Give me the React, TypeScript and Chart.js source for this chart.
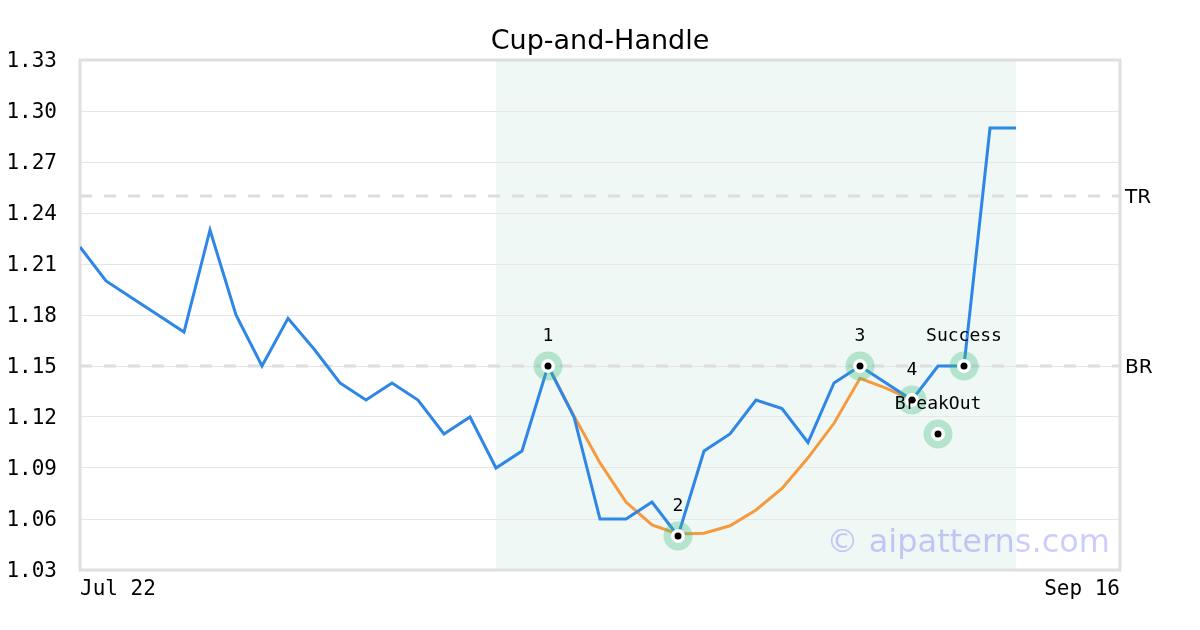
import React, { useEffect, useRef } from 'react';
import { Chart, registerables } from 'chart.js';

Chart.register(...registerables);

const TITLE = 'Cup-and-Handle';
const WATERMARK = '© aipatterns.com';

const X_TICK_POS = [0, 40];
const X_TICK_LABELS = ['Jul 22', 'Sep 16'];
const Y_TICKS = [1.03, 1.06, 1.09, 1.12, 1.15, 1.18, 1.21, 1.24, 1.27, 1.3, 1.33];

const PRICE = [
  1.22, 1.2, 1.19, 1.18, 1.17, 1.23, 1.18, 1.15, 1.178, 1.16, 1.14, 1.13, 1.14,
  1.13, 1.11, 1.12, 1.09, 1.1, 1.15, 1.12, 1.06, 1.06, 1.07, 1.05, 1.1, 1.11,
  1.13, 1.125, 1.105, 1.14, 1.15, 1.14, 1.13, 1.15, 1.15, 1.29, 1.29,
];

const CUP_START = 18;
const CUP = [
  1.15, 1.1206, 1.093, 1.07, 1.0565, 1.0512, 1.0516, 1.056, 1.0653, 1.078,
  1.096, 1.1163, 1.1428, 1.137, 1.13,
];

const MARKER_X = [18, 23, 30, 32, 33, 34];
const MARKER_Y = [1.15, 1.05, 1.15, 1.13, 1.11, 1.15];
const MARKER_LABELS = ['1', '2', '3', '4', 'BreakOut', 'Success'];

const LEVEL_VALUES = [1.25, 1.15];
const LEVEL_LABELS = ['TR', 'BR'];

const SHADE_START = 16;
const SHADE_END = 36;

const X_MIN = 0;
const X_MAX = 40;

const MONO = "'DejaVu Sans Mono', monospace";
const SANS = "'DejaVu Sans', sans-serif";

export default function App() {
  const ref = useRef<HTMLCanvasElement | null>(null);

  useEffect(() => {
    if (!ref.current) return;

    const priceData = PRICE.map((y, i) => ({ x: i, y }));
    const cupData = CUP.map((y, i) => ({ x: CUP_START + i, y }));
    const markerData = MARKER_X.map((x, i) => ({ x, y: MARKER_Y[i] }));

    const levelSets = LEVEL_VALUES.map((v, i) => ({
      label: LEVEL_LABELS[i],
      data: [
        { x: X_MIN, y: v },
        { x: X_MAX, y: v },
      ],
      borderColor: '#dedede',
      borderWidth: 3,
      borderDash: [12, 12],
      pointRadius: 0,
      order: 10,
    }));

    const decor = {
      id: 'decor',
      beforeDraw(chart: any) {
        const { ctx, chartArea, scales } = chart;
        const x0 = scales.x.getPixelForValue(SHADE_START);
        const x1 = scales.x.getPixelForValue(SHADE_END);
        ctx.save();
        ctx.fillStyle = '#eff8f4';
        ctx.fillRect(x0, chartArea.top, x1 - x0, chartArea.bottom - chartArea.top);
        ctx.restore();
      },
      beforeDatasetsDraw(chart: any) {
        const { ctx, chartArea } = chart;
        ctx.save();
        ctx.strokeStyle = '#dfdfdf';
        ctx.lineWidth = 3;
        ctx.strokeRect(
          chartArea.left,
          chartArea.top,
          chartArea.right - chartArea.left,
          chartArea.bottom - chartArea.top
        );
        ctx.font = `32px ${SANS}`;
        ctx.fillStyle = 'rgba(0,0,255,0.2)';
        ctx.textAlign = 'right';
        ctx.textBaseline = 'middle';
        ctx.fillText(WATERMARK, chartArea.right - 10, chartArea.bottom - 26);
        ctx.restore();
      },
      afterDatasetsDraw(chart: any) {
        const { ctx, chartArea, scales } = chart;
        ctx.save();
        ctx.fillStyle = '#000';
        ctx.textAlign = 'center';
        ctx.textBaseline = 'middle';
        ctx.font = `18px ${MONO}`;
        MARKER_X.forEach((x, i) => {
          const px = scales.x.getPixelForValue(x);
          const py = scales.y.getPixelForValue(MARKER_Y[i]);
          ctx.fillText(MARKER_LABELS[i], px, py - 30);
        });
        ctx.font = `20px ${SANS}`;
        ctx.textAlign = 'left';
        LEVEL_VALUES.forEach((v, i) => {
          const py = scales.y.getPixelForValue(v);
          ctx.fillText(LEVEL_LABELS[i], chartArea.right + 5, py + 2);
        });
        ctx.restore();
      },
    };

    const chart = new Chart(ref.current, {
      type: 'line',
      data: {
        datasets: [
          {
            label: 'points',
            data: markerData,
            showLine: false,
            pointRadius: 5.25,
            pointBorderWidth: 3.5,
            pointBackgroundColor: '#000',
            pointBorderColor: '#fff',
            order: 0,
          },
          {
            label: 'halo',
            data: markerData,
            showLine: false,
            pointRadius: 14.5,
            pointBorderWidth: 0,
            pointBackgroundColor: 'rgba(61,188,131,0.33)',
            pointBorderColor: 'rgba(0,0,0,0)',
            order: 1,
          },
          {
            label: 'cup',
            data: cupData,
            borderColor: '#f59a3e',
            borderWidth: 3,
            pointRadius: 0,
            tension: 0,
            order: 3,
          },
          {
            label: 'price',
            data: priceData,
            borderColor: '#2e86e6',
            borderWidth: 3,
            pointRadius: 0,
            tension: 0,
            order: 2,
          },
          ...levelSets,
        ] as any,
      },
      options: {
        animation: false,
        responsive: false,
        devicePixelRatio: 1,
        layout: { padding: 0 },
        plugins: {
          legend: { display: false },
          tooltip: { enabled: false },
          title: {
            display: true,
            text: TITLE,
            color: '#000',
            font: { family: SANS, size: 27, weight: 'normal' as any, lineHeight: 1.2 },
            padding: { top: 26, bottom: 1.6 },
          },
        },
        scales: {
          x: {
            type: 'linear',
            min: X_MIN,
            max: X_MAX,
            grid: { display: false, drawTicks: false },
            border: { display: false },
            afterBuildTicks: (s: any) => {
              s.ticks = X_TICK_POS.map((v) => ({ value: v }));
            },
            afterFit: (s: any) => {
              s.height = 60;
            },
            ticks: {
              align: 'inner',
              padding: 7,
              color: '#000',
              font: { family: MONO, size: 21 },
              maxRotation: 0,
              autoSkip: false,
              callback: (v: any) => {
                const i = X_TICK_POS.indexOf(Number(v));
                return i >= 0 ? X_TICK_LABELS[i] : '';
              },
            },
          },
          y: {
            type: 'linear',
            position: 'left',
            min: Y_TICKS[0],
            max: Y_TICKS[Y_TICKS.length - 1],
            grid: { color: '#e6e6e6', lineWidth: 1, drawTicks: false },
            border: { display: false },
            afterBuildTicks: (s: any) => {
              s.ticks = Y_TICKS.map((v) => ({ value: v }));
            },
            afterFit: (s: any) => {
              s.width = 80;
            },
            ticks: {
              padding: 23,
              labelOffset: 2,
              color: '#000',
              font: { family: MONO, size: 21 },
              autoSkip: false,
              callback: (v: any) => Number(v).toFixed(2),
            },
          },
          yRight: {
            type: 'linear',
            position: 'right',
            min: Y_TICKS[0],
            max: Y_TICKS[Y_TICKS.length - 1],
            grid: { display: false, drawTicks: false },
            border: { display: false },
            ticks: { display: false },
            afterFit: (s: any) => {
              s.width = 80;
            },
          },
        },
      } as any,
      plugins: [decor],
    });

    return () => chart.destroy();
  }, []);

  return (
    <div style={{ position: 'fixed', left: 0, top: 0, width: 1200, height: 630, background: '#fff' }}>
      <canvas ref={ref} width={1200} height={630} />
    </div>
  );
}
